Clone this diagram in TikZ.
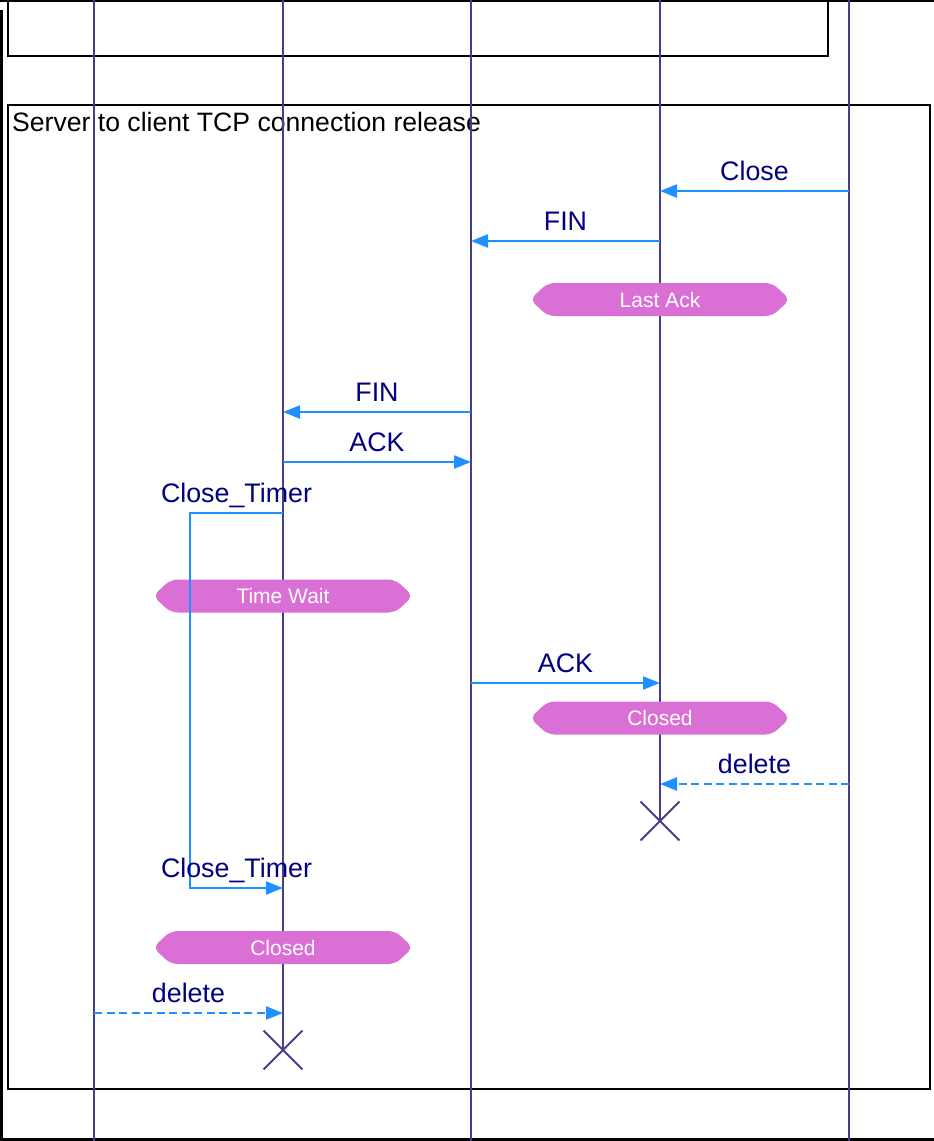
\documentclass[tikz,border=0pt]{standalone}
\usepackage{fontspec}
\setmainfont{Liberation Sans}
\usetikzlibrary{positioning,arrows.meta,shapes.symbols,shapes.misc}
\definecolor{lifeclr}{RGB}{72,61,139}
\definecolor{msgclr}{RGB}{30,144,255}
\definecolor{lblclr}{RGB}{0,0,128}
\definecolor{stateclr}{RGB}{218,112,214}
\tikzset{
	frm/.style={draw=black,line width=2.4pt},
	life/.style={draw=lifeclr,line width=1.9pt},
	msg/.style={draw=msgclr,line width=2.4pt,-{Triangle[length=17pt,width=13pt]}},
	msgd/.style={msg,dash pattern=on 8pt off 4.5pt},
	lbl/.style={above=9pt,inner sep=0pt,text depth=0pt,text=lblclr,font=\fontsize{26.8}{30}\selectfont},
	state/.style={signal,signal to=west and east,signal pointer angle=86,rounded corners=7pt,
		fill=stateclr,minimum width=260pt,minimum height=33pt,inner sep=0pt,
		text=white,font=\fontsize{21}{25}\selectfont},
	kill/.style={cross out,draw=lifeclr,line width=1.9pt,minimum size=37pt,inner sep=0pt},
}

\begin{document}
\begin{tikzpicture}[x=1pt,y=-1pt]
	\useasboundingbox (0,0) rectangle (934,1141);
	%% frames
	\draw[frm] (0,0.8) -- (934,0.8);
	\draw[frm] (8,0) |- (828,56) -- (828,0);
	\draw[frm] (1.5,10) |- (940,1139.5);
	\draw[frm] (8,105) rectangle (930,1089);
	\node[anchor=base west,inner sep=0pt,font=\fontsize{26.6}{30}\selectfont] (ttl) at (12,131)
		{Server to client TCP connection release};
	%% lifelines
	\foreach \n/\x/\e in {1/94/1141,2/283/1050,3/471/1141,4/660/821,5/849/1141}{
		\coordinate (h\n) at (\x,0);
		\coordinate (e\n) at (\x,\e);
		\draw[life] (h\n) -- (e\n);
	}
	%% states
	\node[state] (lack) at (660,299.5) {Last Ack};
	\node[state] (twait) at (283,596) {Time Wait};
	\node[state] (cls4) at (660,718) {Closed};
	\node[state] (cls2) at (283,947.5) {Closed};
	%% message ends
	\coordinate (c1a) at (849,191);  \coordinate (c1b) at (660,191);
	\coordinate (f1a) at (660,241);  \coordinate (f1b) at (471,241);
	\coordinate (f2a) at (471,412);  \coordinate (f2b) at (283,412);
	\coordinate (a1a) at (283,462);  \coordinate (a1b) at (471,462);
	\coordinate (t1a) at (283,513);  \coordinate (t1l) at (190,513);
	\coordinate (t1b) at (283,888);
	\coordinate (a2a) at (471,683);  \coordinate (a2b) at (660,683);
	\coordinate (d1a) at (849,784);  \coordinate (d1b) at (660,784);
	\coordinate (d2a) at (94,1013);  \coordinate (d2b) at (283,1013);
	% 消息连线
	\draw[msg] (c1a) -- node[lbl] {Close} (c1b);
	\draw[msg] (f1a) -- node[lbl] {FIN} (f1b);
	\draw[msg] (f2a) -- node[lbl] {FIN} (f2b);
	\draw[msg] (a1a) -- node[lbl] {ACK} (a1b);
	\draw[msg] (t1a) -- node[lbl] {Close\_Timer} (t1l) |- node[lbl,pos=0.75] {Close\_Timer} (t1b);
	\draw[msg] (a2a) -- node[lbl] {ACK} (a2b);
	\draw[msgd] (d1a) -- node[lbl] {delete} (d1b);
	\draw[msgd] (d2a) -- node[lbl] {delete} (d2b);
	%% destroy
	\node[kill] (x4) at (e4) {};
	\node[kill] (x2) at (e2) {};
\end{tikzpicture}
\end{document}
